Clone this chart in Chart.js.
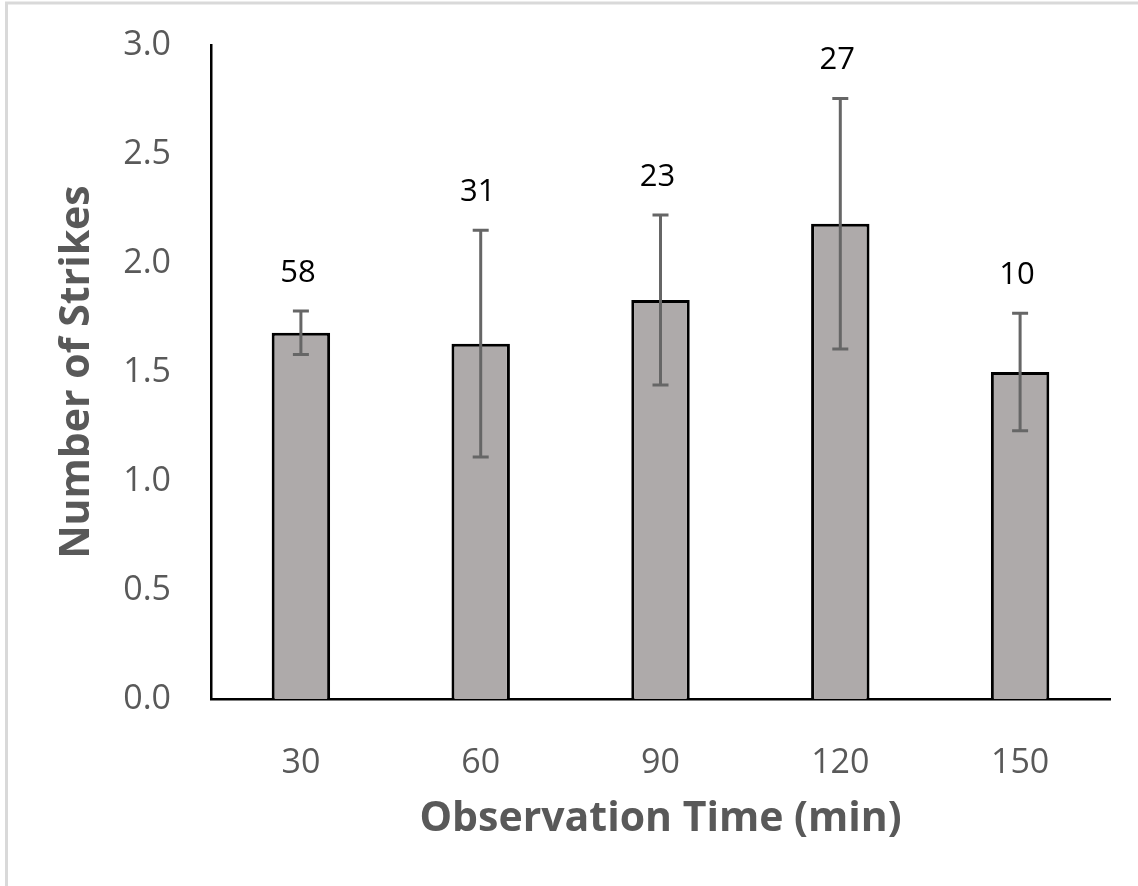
<!DOCTYPE html>
<html lang="en">
<head>
  <meta charset="UTF-8" />
  <title>Number of Strikes by Observation Time</title>
  <script src="https://cdn.jsdelivr.net/npm/chart.js"></script>
  <style>
    body {
      margin: 0;
      background: #fff;
    }
    .wrap {
      width: 1138px;
      height: 886px;
    }
  </style>
</head>
<body>
  <div class="wrap">
    <canvas id="chart" width="1138" height="886"></canvas>
  </div>

  <script>
    // values
    const times = ['30', '60', '90', '120', '150'];
    const meanStrikes = [1.68, 1.63, 1.83, 2.18, 1.50];
    const errors = [0.10, 0.52, 0.39, 0.575, 0.27];
    const counts = [58, 31, 23, 27, 10];
    const yTicks = [0, 0.5, 1.0, 1.5, 2.0, 2.5, 3.0];

    const FONT = '"Open Sans", "Noto Sans", sans-serif';
    const GREY = '#595959';

    // light frame on top and left edge, like the exported picture
    const framePlugin = {
      id: 'frame',
      beforeDraw(chart) {
        const ctx = chart.ctx;
        ctx.save();
        ctx.strokeStyle = '#d9d9d9';
        ctx.lineWidth = 3;
        ctx.beginPath();
        ctx.moveTo(6.5, chart.height);
        ctx.lineTo(6.5, 3);
        ctx.lineTo(chart.width, 3);
        ctx.stroke();
        ctx.restore();
      }
    };

    // error bars and the n-labels above them
    const errorBarPlugin = {
      id: 'errorBars',
      afterDatasetsDraw(chart) {
        const ctx = chart.ctx;
        const y = chart.scales.y;
        const meta = chart.getDatasetMeta(0);
        ctx.save();
        meta.data.forEach((bar, i) => {
          const x = bar.x;
          const top = y.getPixelForValue(meanStrikes[i] + errors[i]);
          const bottom = y.getPixelForValue(meanStrikes[i] - errors[i]);
          ctx.strokeStyle = '#666666';
          ctx.lineWidth = 3;
          ctx.beginPath();
          ctx.moveTo(x, top);
          ctx.lineTo(x, bottom);
          ctx.moveTo(x - 8, top);
          ctx.lineTo(x + 8, top);
          ctx.moveTo(x - 8, bottom);
          ctx.lineTo(x + 8, bottom);
          ctx.stroke();

          ctx.fillStyle = '#000';
          ctx.font = '31px ' + FONT;
          ctx.textAlign = 'center';
          ctx.textBaseline = 'middle';
          ctx.fillText(String(counts[i]), x - 3, top - 38);
        });
        ctx.restore();
      }
    };

    new Chart(document.getElementById('chart'), {
      type: 'bar',
      data: {
        labels: times,
        datasets: [{
          data: meanStrikes,
          backgroundColor: '#aeaaaa',
          borderColor: '#000',
          borderWidth: 3,
          categoryPercentage: 1,
          barPercentage: 0.325
        }]
      },
      options: {
        responsive: false,
        animation: false,
        layout: { padding: { top: 45, right: 28, left: 0, bottom: 0 } },
        plugins: {
          legend: { display: false },
          tooltip: { enabled: false }
        },
        scales: {
          x: {
            grid: { display: false, drawTicks: false },
            border: { color: '#000', width: 2.5 },
            ticks: {
              color: GREY,
              padding: 44,
              font: { family: FONT, size: 34 }
            },
            title: {
              display: true,
              text: 'Observation Time (min)',
              color: GREY,
              font: { family: FONT, size: 41, weight: 'bold' },
              padding: { top: 0, bottom: 42 }
            },
            afterFit(scale) { scale.height = 187; }
          },
          y: {
            min: 0,
            max: 3,
            afterBuildTicks(scale) {
              scale.ticks = yTicks.map(v => ({ value: v }));
            },
            grid: { display: false, drawTicks: false },
            border: { color: '#000', width: 2.5 },
            ticks: {
              color: GREY,
              padding: 40,
              font: { family: FONT, size: 34 },
              callback: v => Number(v).toFixed(1)
            },
            title: {
              display: true,
              text: 'Number of Strikes',
              color: GREY,
              font: { family: FONT, size: 41, weight: 'bold' },
              padding: { top: 53, bottom: 0 }
            },
            afterFit(scale) {
              scale.width = 211;
              // tick padding would otherwise push the plot top down
              scale.paddingTop = 0;
              scale.paddingBottom = 0;
            }
          }
        }
      },
      plugins: [framePlugin, errorBarPlugin]
    });
  </script>
</body>
</html>
